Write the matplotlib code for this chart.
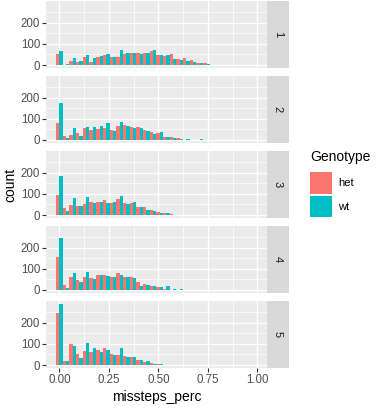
import numpy as np
import matplotlib
matplotlib.use("Agg")
import matplotlib.pyplot as plt
from matplotlib.patches import Patch

plt.rcParams['font.family'] = ['Liberation Sans', 'DejaVu Sans']

# ---------------- data ----------------
facets = ["1", "2", "3", "4", "5"]
genotypes = ["het", "wt"]
n_bins = 30
x_max = 0.98  # centre of the last bin

het_1 = [52, 2, 19, 16, 36, 16, 39, 47, 39, 40, 52, 55, 55, 58, 66, 47, 44, 50, 27, 31, 24, 8, 8, 2, 0, 0, 0, 0, 0, 0]
wt_1 = [67, 5, 33, 19, 47, 31, 42, 52, 39, 70, 58, 55, 52, 55, 70, 47, 47, 27, 24, 19, 12, 11, 5, 0, 0, 0, 0, 0, 0, 0]
het_2 = [80, 19, 24, 35, 58, 47, 50, 55, 47, 67, 70, 60, 60, 47, 39, 35, 15, 12, 8, 2, 2, 2, 1, 0, 0, 0, 0, 0, 0, 2]
wt_2 = [175, 8, 58, 20, 63, 63, 66, 82, 44, 86, 67, 55, 55, 44, 28, 40, 13, 10, 4, 3, 2, 3, 2, 0, 0, 0, 0, 0, 0, 0]
het_3 = [94, 31, 47, 42, 52, 60, 63, 70, 58, 74, 58, 55, 39, 36, 24, 12, 10, 3, 2, 2, 1, 1, 0, 0, 0, 0, 0, 0, 0, 0]
wt_3 = [183, 19, 78, 42, 83, 58, 63, 58, 63, 89, 52, 63, 36, 24, 20, 10, 10, 2, 2, 1, 2, 0, 0, 0, 0, 0, 0, 0, 0, 0]
het_4 = [157, 24, 63, 47, 63, 55, 70, 70, 60, 78, 63, 63, 39, 28, 19, 15, 4, 2, 2, 1, 0, 0, 0, 0, 0, 0, 0, 0, 0, 0]
wt_4 = [243, 11, 82, 39, 86, 50, 70, 67, 63, 70, 60, 58, 19, 24, 19, 13, 18, 3, 3, 0, 0, 0, 0, 0, 0, 0, 0, 0, 0, 0]
het_5 = [246, 19, 99, 50, 67, 60, 70, 78, 52, 47, 44, 36, 24, 16, 8, 3, 2, 1, 0, 0, 0, 0, 0, 0, 0, 0, 0, 0, 0, 0]
wt_5 = [287, 19, 89, 31, 105, 78, 60, 70, 47, 78, 36, 36, 24, 19, 5, 3, 2, 1, 0, 0, 0, 0, 0, 0, 0, 0, 0, 0, 0, 0]

het_counts = [het_1, het_2, het_3, het_4, het_5]
wt_counts = [wt_1, wt_2, wt_3, wt_4, wt_5]

x_ticks = [0.0, 0.25, 0.5, 0.75, 1.0]
x_ticklabels = ["0.00", "0.25", "0.50", "0.75", "1.00"]
y_ticks = [0, 100, 200]

colors = {"het": "#F8766D", "wt": "#00BFC4"}

# ---------------- layout ----------------
W, H = 381, 408
fig = plt.figure(figsize=(W / 100, H / 100), dpi=100)
fig.patch.set_facecolor("white")

bw = x_max / (n_bins - 1)
centers = np.arange(n_bins) * bw
span = x_max + bw
xlim = (-bw / 2 - 0.05 * span, x_max + bw / 2 + 0.05 * span)

ymax = max(max(max(a) for a in het_counts), max(max(a) for a in wt_counts))
ylim = (-0.05 * ymax, 1.05 * ymax)

px_per_count = 0.2125
panel_h = (ylim[1] - ylim[0]) * px_per_count
zeros = [65, 140, 215, 290, 365]
pl, pr = 46.0, 266.7
strip_w = 22.3

axes = []
for i, f in enumerate(facets):
    bottom_px = zeros[i] + (-ylim[0]) * px_per_count
    ax = fig.add_axes([pl / W, 1 - bottom_px / H, (pr - pl) / W, panel_h / H])
    ax.set_facecolor("#EBEBEB")
    for s in ax.spines.values():
        s.set_visible(False)
    ax.set_xlim(xlim)
    ax.set_ylim(ylim)
    ax.set_xticks(x_ticks)
    ax.set_xticks([0.125, 0.375, 0.625, 0.875], minor=True)
    ax.set_yticks(y_ticks)
    ax.set_yticks([50, 150, 250], minor=True)
    ax.grid(which="major", color="white", linewidth=1.0)
    ax.grid(which="minor", color="white", linewidth=0.5)
    ax.set_axisbelow(True)
    ax.tick_params(axis="both", which="major", length=2.6, width=0.8, color="#333333",
                   labelsize=8.3, labelcolor="#4D4D4D", pad=1.5)
    ax.tick_params(axis="both", which="minor", length=0)
    ax.bar(centers - bw / 4, het_counts[i], width=bw / 2, color=colors["het"], linewidth=0)
    ax.bar(centers + bw / 4, wt_counts[i], width=bw / 2, color=colors["wt"], linewidth=0)
    if i < len(facets) - 1:
        ax.tick_params(axis="x", which="both", bottom=False, labelbottom=False)
    else:
        ax.set_xticklabels(x_ticklabels)
    # strip
    sax = fig.add_axes([pr / W, 1 - bottom_px / H, strip_w / W, panel_h / H])
    sax.set_facecolor("#D9D9D9")
    sax.set_xticks([]); sax.set_yticks([])
    for s in sax.spines.values():
        s.set_visible(False)
    sax.text(0.5, 0.5, f, rotation=-90, ha="center", va="center", fontsize=8,
             color="#1A1A1A", transform=sax.transAxes)
    axes.append(ax)

# axis titles
fig.text(10 / W, 1 - 185 / H, "count", rotation=90, ha="center", va="center", fontsize=10)
fig.text((pl + pr) / 2 / W, 1 - 397 / H, "missteps_perc", ha="center", va="center", fontsize=10)

# legend
handles = [Patch(facecolor=colors[g], edgecolor="none", label=g) for g in genotypes]
leg = fig.legend(handles=handles, title="Genotype", loc="upper left",
                 bbox_to_anchor=(310 / W, 1 - 150 / H), frameon=False,
                 fontsize=8, title_fontsize=10, handlelength=1.94, handleheight=2.6,
                 handletextpad=0.6, labelspacing=0.16, borderpad=0, borderaxespad=0,
                 alignment="left")
leg._legend_box.sep = 6

fig.savefig("out.png", dpi=100)
